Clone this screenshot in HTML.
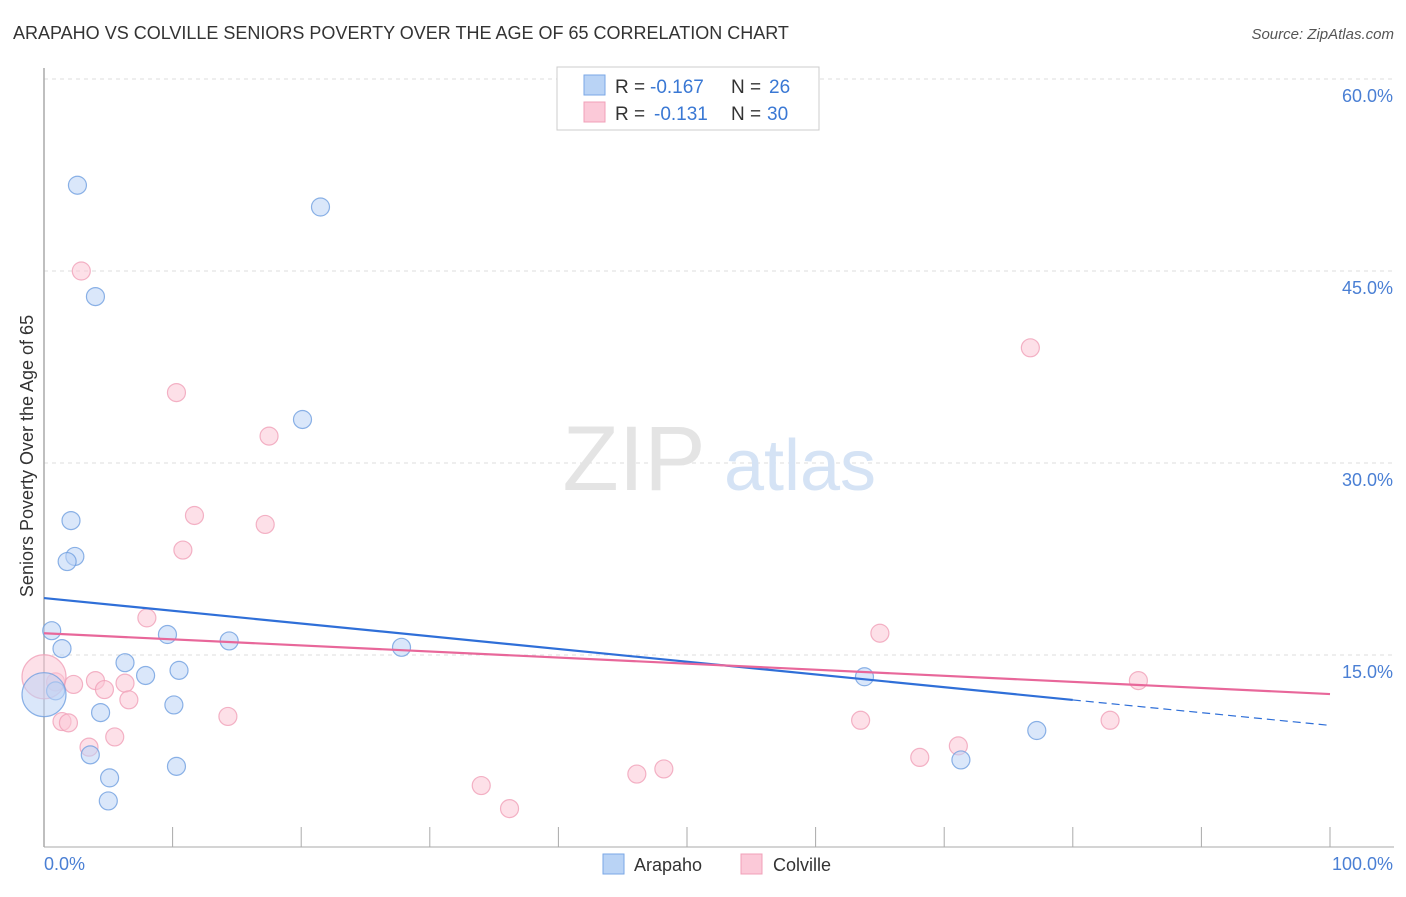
<!DOCTYPE html>
<html><head><meta charset="utf-8"><style>
body{margin:0;background:#fff;font-family:"Liberation Sans",sans-serif;}
svg text{font-family:"Liberation Sans",sans-serif;}
</style></head><body>
<svg id="chart" width="1406" height="892" xmlns="http://www.w3.org/2000/svg">
<text x="13" y="39" font-size="18" fill="#333">ARAPAHO VS COLVILLE SENIORS POVERTY OVER THE AGE OF 65 CORRELATION CHART</text>
<text x="1394" y="39" font-size="15" fill="#555" text-anchor="end" font-style="italic">Source: ZipAtlas.com</text>
<g id="grid"></g>
<g><text x="634" y="490" font-size="92" fill="#e4e4e4" text-anchor="middle" font-family="Liberation Serif">ZIP</text><text x="800" y="490" font-size="72" fill="#d5e3f5" text-anchor="middle">atlas</text></g>
<line x1="44" y1="68" x2="44" y2="847" stroke="#aaa" stroke-width="1.5"/>
<line x1="44" y1="847" x2="1394" y2="847" stroke="#aaa" stroke-width="1"/>
<text transform="translate(33,456) rotate(-90)" font-size="18" fill="#333" text-anchor="middle">Seniors Poverty Over the Age of 65</text>
<text x="44" y="870" font-size="18" fill="#4a7fd4">0.0%</text>
<text x="1393" y="870" font-size="18" fill="#4a7fd4" text-anchor="end">100.0%</text>
<g id="marks"></g>
<g>
<rect x="557" y="67" width="262" height="63" fill="#fff" stroke="#ccc"/>
<rect x="584" y="75" width="21" height="20" fill="#b9d3f5" stroke="#7aa7e6"/>
<rect x="584" y="102" width="21" height="20" fill="#fbc9d8" stroke="#f0a0b8"/>
<text x="615" y="93" font-size="19" fill="#333">R =</text>
<text x="650" y="93" font-size="19" fill="#3a78d4">-0.167</text>
<text x="731" y="93" font-size="19" fill="#333">N =</text>
<text x="769" y="93" font-size="19" fill="#3a78d4">26</text>
<text x="615" y="120" font-size="19" fill="#333">R =</text>
<text x="654" y="120" font-size="19" fill="#3a78d4">-0.131</text>
<text x="731" y="120" font-size="19" fill="#333">N =</text>
<text x="767" y="120" font-size="19" fill="#3a78d4">30</text>
</g>
<g>
<rect x="603" y="854" width="21" height="20" fill="#b9d3f5" stroke="#7aa7e6"/>
<text x="634" y="871" font-size="18" fill="#333">Arapaho</text>
<rect x="741" y="854" width="21" height="20" fill="#fbc9d8" stroke="#f0a0b8"/>
<text x="773" y="871" font-size="18" fill="#333">Colville</text>
</g>
</svg>
<script>
const yTicks=[15,30,45,60];
const yTickLabels=["15.0%","30.0%","45.0%","60.0%"];
const xTicks=[0,10,20,30,40,50,60,70,80,90,100];
const arapahoX=[2.6,21.5,4.0,20.1,2.1,2.4,1.8,0.6,9.6,14.4,1.4,27.8,6.3,7.9,10.5,0.9,4.4,10.1,3.6,5.1,10.3,5.0,63.8,77.2,71.3,0];
const arapahoY=[51.7,50.0,43.0,33.4,25.5,22.7,22.3,16.9,16.6,16.1,15.5,15.6,14.4,13.4,13.8,12.2,10.5,11.1,7.2,5.4,6.3,3.6,13.3,9.1,6.8,11.9];
const arapahoR=[9,9,9,9,9,9,9,9,9,9,9,9,9,9,9,9,9,9,9,9,9,9,9,9,9,22];
const colvilleX=[2.9,10.3,17.5,11.7,17.2,10.8,8.0,65.0,76.7,0.9,2.3,4.0,6.3,4.7,6.6,1.4,1.9,3.5,5.5,14.3,34.0,36.2,46.1,48.2,63.5,68.1,71.1,82.9,85.1,0];
const colvilleY=[45.0,35.5,32.1,25.9,25.2,23.2,17.9,16.7,39.0,12.9,12.7,13.0,12.8,12.3,11.5,9.8,9.7,7.8,8.6,10.2,4.8,3.0,5.7,6.1,9.9,7.0,7.9,9.9,13.0,13.3];
const colvilleR=[9,9,9,9,9,9,9,9,9,9,9,9,9,9,9,9,9,9,9,9,9,9,9,9,9,9,9,9,9,22];
const arapahoTrend=[19.45,9.5];
const arapahoSolidEnd=80;
const colvilleTrend=[16.7,11.95];
const NS="http://www.w3.org/2000/svg";
const xs=v=>44+v*12.86;
const ys=v=>847-v*12.8;
function mk(tag,attrs,parent){const e=document.createElementNS(NS,tag);for(const k in attrs)e.setAttribute(k,attrs[k]);parent.appendChild(e);return e;}
const grid=document.getElementById('grid');
yTicks.forEach((t,i)=>{
 const l=mk('line',{x1:44,x2:1394,y1:ys(t),y2:ys(t),stroke:'#ddd','stroke-dasharray':'4,4'},grid);
 
 
 const tx=mk('text',{x:1393,y:ys(t)+23,'font-size':18,fill:'#4a7fd4','text-anchor':'end'},grid);
 tx.textContent=yTickLabels[i];
 
 
});
const topGrid=mk('line',{x1:44,x2:1394,y1:79,y2:79,stroke:'#ddd','stroke-dasharray':'4,4'},grid);


xTicks.forEach(t=>{
 const l=mk('line',{x1:xs(t),x2:xs(t),y1:827,y2:847,stroke:'#aaa'},grid);
 
 
});
const marks=document.getElementById('marks');
function pts(X,Y,R,fill,stroke,name){
 X.forEach((x,i)=>{
  const c=mk('circle',{cx:xs(x),cy:ys(Y[i]),r:R[i],fill:fill,'fill-opacity':0.55,stroke:stroke,'stroke-width':1.2,'stroke-opacity':0.8},marks);
  
  
 });
}
pts(colvilleX,colvilleY,colvilleR,'#fbc6d6','#f0a0b8','colville-point');
pts(arapahoX,arapahoY,arapahoR,'#bcd4f5','#6f9fe0','arapaho-point');
const tb=v=>arapahoTrend[0]+(arapahoTrend[1]-arapahoTrend[0])*v/100;
const bl=mk('line',{x1:xs(0),y1:ys(tb(0)),x2:xs(arapahoSolidEnd),y2:ys(tb(arapahoSolidEnd)),stroke:'#2f6fd8','stroke-width':2.2},marks);


const bd=mk('line',{x1:xs(arapahoSolidEnd),y1:ys(tb(arapahoSolidEnd)),x2:xs(100),y2:ys(tb(100)),stroke:'#2f6fd8','stroke-width':1.2,'stroke-dasharray':'8,5'},marks);


const pl=mk('line',{x1:xs(0),y1:ys(colvilleTrend[0]),x2:xs(100),y2:ys(colvilleTrend[1]),stroke:'#e8679a','stroke-width':2.2},marks);


</script>
</body></html>
